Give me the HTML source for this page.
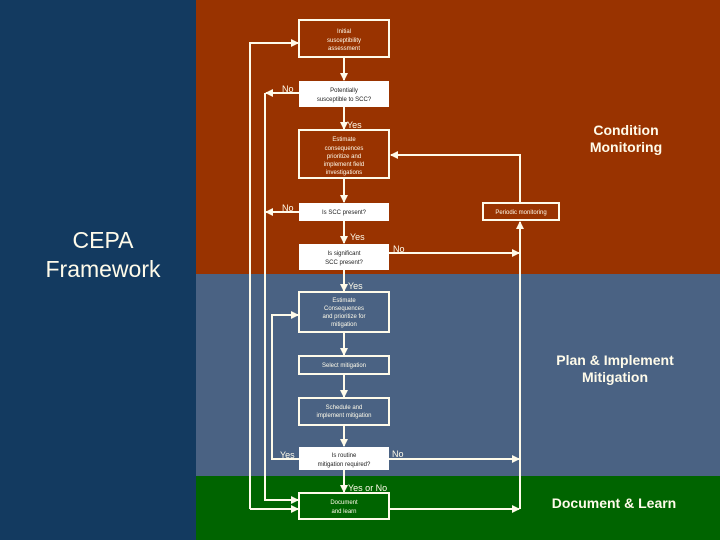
<!DOCTYPE html>
<html><head><meta charset="utf-8"><style>
html,body{margin:0;padding:0;width:720px;height:540px;overflow:hidden;background:#133a60}
svg{display:block}
text{font-family:"Liberation Sans",sans-serif}
</style></head><body>
<svg width="720" height="540" viewBox="0 0 720 540" xmlns="http://www.w3.org/2000/svg">
<defs>
<marker id="a" markerWidth="8" markerHeight="8" refX="7" refY="4" orient="auto" markerUnits="userSpaceOnUse">
<path d="M0,0 L8,4 L0,8 z" fill="#fffbea"/></marker>
</defs>
<rect x="0" y="0" width="196" height="540" fill="#133a60"/>
<rect x="196" y="0" width="524" height="274" fill="#993300"/>
<rect x="196" y="274" width="524" height="202" fill="#4a6283"/>
<rect x="196" y="476" width="524" height="64" fill="#006400"/>

<g fill="#fffbea" text-anchor="middle">
<text x="103" y="248" font-size="23">CEPA</text>
<text x="103" y="277" font-size="23">Framework</text>
</g>
<g fill="#fffbea" font-weight="bold" text-anchor="middle">
<text x="626" y="135" font-size="14">Condition</text>
<text x="626" y="152" font-size="14">Monitoring</text>
<text x="615" y="365" font-size="14">Plan &amp; Implement</text>
<text x="615" y="382" font-size="14">Mitigation</text>
<text x="614" y="508" font-size="14">Document &amp; Learn</text>
</g>

<g stroke="#fffbea" stroke-width="2" fill="none">
<rect x="299" y="20" width="90" height="37"/>
<rect x="299" y="130" width="90" height="48"/>
<rect x="299" y="292" width="90" height="40"/>
<rect x="299" y="356" width="90" height="18"/>
<rect x="299" y="398" width="90" height="27"/>
<rect x="299" y="493" width="90" height="26"/>
<rect x="483" y="203" width="76" height="17"/>
</g>
<g fill="#ffffff">
<rect x="299" y="81" width="90" height="26"/>
<rect x="299" y="203" width="90" height="18"/>
<rect x="299" y="244" width="90" height="26"/>
<rect x="299" y="447" width="90" height="23"/>
</g>

<g stroke="#fffbea" stroke-width="2" fill="none" marker-end="url(#a)">
<line x1="344" y1="57" x2="344" y2="80"/>
<line x1="344" y1="107" x2="344" y2="129"/>
<line x1="344" y1="178" x2="344" y2="202"/>
<line x1="344" y1="221" x2="344" y2="243"/>
<line x1="344" y1="270" x2="344" y2="291"/>
<line x1="344" y1="332" x2="344" y2="355"/>
<line x1="344" y1="374" x2="344" y2="397"/>
<line x1="344" y1="425" x2="344" y2="446"/>
<line x1="344" y1="470" x2="344" y2="492"/>
<polyline points="250,509 250,43 298,43"/>
<line x1="299" y1="93" x2="266" y2="93"/>
<polyline points="265,93 265,500 298,500"/>
<line x1="299" y1="212" x2="266" y2="212"/>
<polyline points="299,459 272,459 272,315 298,315"/>
<line x1="389" y1="253" x2="519" y2="253"/>
<line x1="389" y1="459" x2="519" y2="459"/>
<line x1="389" y1="509" x2="519" y2="509"/>
<line x1="520" y1="509" x2="520" y2="222"/>
<polyline points="520,203 520,155 391,155"/>
<line x1="250" y1="509" x2="298" y2="509"/>
</g>

<g fill="#fffbea" font-size="9">
<text x="282" y="92">No</text>
<text x="282" y="211">No</text>
<text x="347" y="128">Yes</text>
<text x="350" y="240">Yes</text>
<text x="393" y="252">No</text>
<text x="348" y="289">Yes</text>
<text x="280" y="458">Yes</text>
<text x="392" y="457">No</text>
<text x="348" y="491">Yes or No</text>
</g>
<g font-size="6" text-anchor="middle" fill="#fffbea">
<text x="344" y="33">Initial</text>
<text x="344" y="42">susceptibility</text>
<text x="344" y="50">assessment</text>
<text x="344" y="141">Estimate</text>
<text x="344" y="150">consequences</text>
<text x="344" y="158">prioritize and</text>
<text x="344" y="166">implement field</text>
<text x="344" y="174">investigations</text>
<text x="344" y="302">Estimate</text>
<text x="344" y="310">Consequences</text>
<text x="344" y="318">and prioritize for</text>
<text x="344" y="326">mitigation</text>
<text x="344" y="367">Select mitigation</text>
<text x="344" y="409">Schedule and</text>
<text x="344" y="417">implement mitigation</text>
<text x="344" y="504">Document</text>
<text x="344" y="513">and learn</text>
<text x="521" y="214">Periodic monitoring</text>
</g>
<g font-size="6" text-anchor="middle" fill="#222">
<text x="344" y="92">Potentially</text>
<text x="344" y="101">susceptible to SCC?</text>
<text x="344" y="214">Is SCC present?</text>
<text x="344" y="255">Is significant</text>
<text x="344" y="264">SCC present?</text>
<text x="344" y="457">Is routine</text>
<text x="344" y="466">mitigation required?</text>
</g>
</svg>
</body></html>
